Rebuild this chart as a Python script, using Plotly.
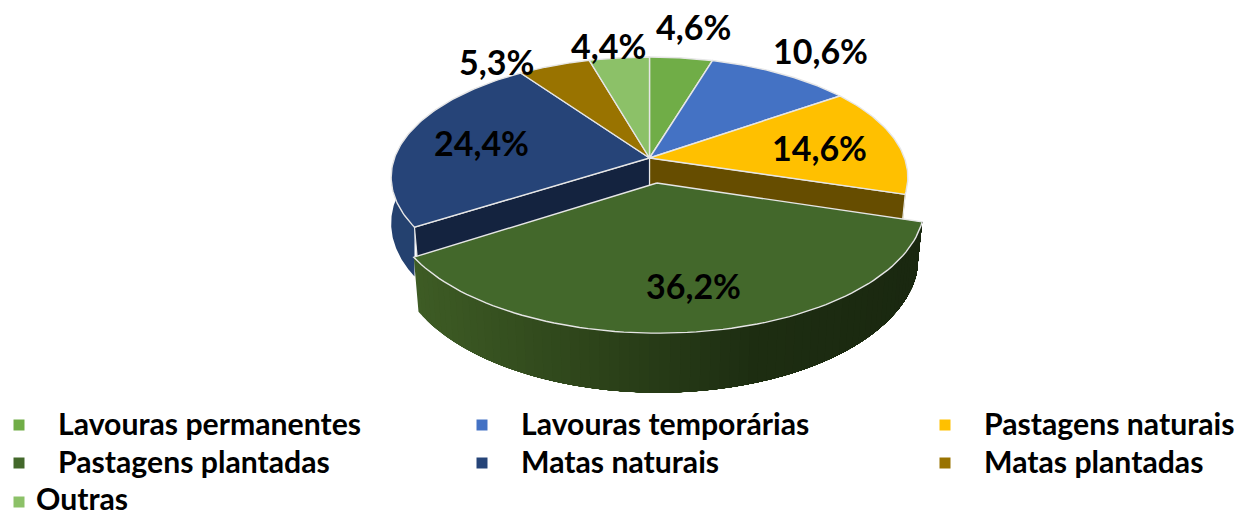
import numpy as np
import plotly.graph_objects as go

categories = ["Lavouras permanentes", "Lavouras temporárias", "Pastagens naturais",
              "Pastagens plantadas", "Matas naturais", "Matas plantadas", "Outras"]
values = [4.6, 10.6, 14.6, 36.2, 24.4, 5.3, 4.4]
colors = ["#70AD47", "#4472C4", "#FFC000", "#43682B", "#264478", "#997300", "#8CC168"]

W, H = 1237, 512
CX, CY, B, A, K, D = 649.5, 158, 255, 117.2, 0.16, 48
EXPLODE = {3: 0.208}
label_pos = [(693, 26), (820, 50), (819, 147.5), (693, 285), (481, 142.5), (496, 61), (608, 45)]
legend_marks = [(19, 425), (482, 425), (945, 425), (19, 463), (482, 463), (945, 463), (19, 502)]
legend_text = [(56, 423), (519, 423), (982, 423), (56, 461), (519, 461), (982, 461), (34, 498)]

total = sum(values)
edges = np.cumsum([0] + values) / total * 2 * np.pi


def project(r, ang, ex=0.0, exang=0.0, low=False, shrink=0.98, depth=D):
    X = r * np.sin(ang) + ex * np.sin(exang)
    Y = -r * np.cos(ang) - ex * np.cos(exang)
    s = 1 / (1 - K * Y)
    px = B * X * s * (shrink if low else 1.0) + CX
    py = CY + A * Y * s + (depth * s if low else 0)
    return px, py


def arc(a0, a1, n=80):
    return np.linspace(a0, a1, n)


fig = go.Figure()


def poly(x, y, fill, line=None, width=0.0, name=None):
    fig.add_trace(go.Scatter(x=list(x), y=list(y), mode="lines", fill="toself", fillcolor=fill,
                             line=dict(color=line or fill, width=width), showlegend=False,
                             hoverinfo="skip", name=name))


def wall(a0, a1, fill, shrink=0.98, depth=D):
    ang = arc(a0, a1)
    tx, ty = project(1, ang)
    bx, by = project(1, ang, low=True, shrink=shrink, depth=depth)
    poly(np.r_[tx, bx[::-1], tx[0]], np.r_[ty, by[::-1], ty[0]], fill)


def cut(a, fill):
    x0, y0 = project(0, a)
    x1, y1 = project(1, a)
    x2, y2 = project(1, a, low=True)
    x3, y3 = project(0, a, low=True)
    poly([x0, x1, x2, x3, x0], [y0, y1, y2, y3, y0], fill, "#E8E8E8", 1.2)


def top(i):
    a0, a1 = edges[i], edges[i + 1]
    ex = EXPLODE.get(i, 0.0)
    mid = (a0 + a1) / 2
    ang = arc(a0, a1)
    ax, ay = project(0, 0, ex, mid)
    rx, ry = project(1, ang, ex, mid)
    poly(np.r_[ax, rx, ax], np.r_[ay, ry, ay], colors[i], "#E6E6E6", 1.4, categories[i])


# outer walls of the seated slices, each stopping where the rim turns away from view
wall(edges[4], edges[4] + 0.73, "#24416F", shrink=1.0, depth=45)
wall(edges[2] + 0.9, edges[3], "#B08A10")

# cut faces left open by the pulled slice
cut(edges[3], "#664D00")
cut(edges[4], "#14233F")

for i in [0, 1, 2, 4, 5, 6]:
    top(i)

# pulled slice: shaded outer wall (painted left to right so no seams show), then top
i = 3
mid = (edges[i] + edges[i + 1]) / 2
ex = EXPLODE[i]
stops_x = [414, 560, 750, 925]
stops_c = np.array([[62, 92, 37], [48, 72, 28], [30, 46, 18], [26, 40, 16]], float)
N = 70
ab = np.linspace(edges[i + 1], edges[i], N + 1)
for j in range(N):
    ang = np.linspace(ab[j], ab[-1], 120)
    tx, ty = project(1, ang, ex, mid)
    bx, by = project(1, ang, ex, mid, low=True)
    c = [int(np.interp(tx[0], stops_x, stops_c[:, k])) for k in range(3)]
    col = f"rgb({c[0]},{c[1]},{c[2]})"
    poly(np.r_[tx, bx[::-1], tx[0]], np.r_[ty, by[::-1], ty[0]], col)
top(3)

fig.add_trace(go.Scatter(x=[p[0] for p in legend_marks], y=[p[1] for p in legend_marks], mode="markers",
                         marker=dict(symbol="square", size=11, color=colors), showlegend=False,
                         hoverinfo="skip"))

annotations = []
for v, (x, y) in zip(values, label_pos):
    annotations.append(dict(x=x, y=y, text=f"<b>{v:.1f}%</b>".replace(".", ","), showarrow=False,
                            xanchor="center", yanchor="middle",
                            font=dict(family="Lato", size=34, color="#000000")))
for c, (tx, y) in zip(categories, legend_text):
    annotations.append(dict(x=tx, y=y, text=f"<b>{c}</b>", showarrow=False, xanchor="left",
                            yanchor="middle", font=dict(family="Lato", size=30.2, color="#000000")))

fig.update_layout(
    width=W, height=H, margin=dict(l=0, r=0, t=0, b=0), paper_bgcolor="white", plot_bgcolor="white",
    xaxis=dict(range=[0, W], visible=False, fixedrange=True),
    yaxis=dict(range=[H, 0], visible=False, fixedrange=True),
    annotations=annotations, showlegend=False,
)
fig.write_html("out.html", config=dict(displayModeBar=False),
               post_script="document.body.style.margin='0';document.documentElement.style.overflow='hidden';")
